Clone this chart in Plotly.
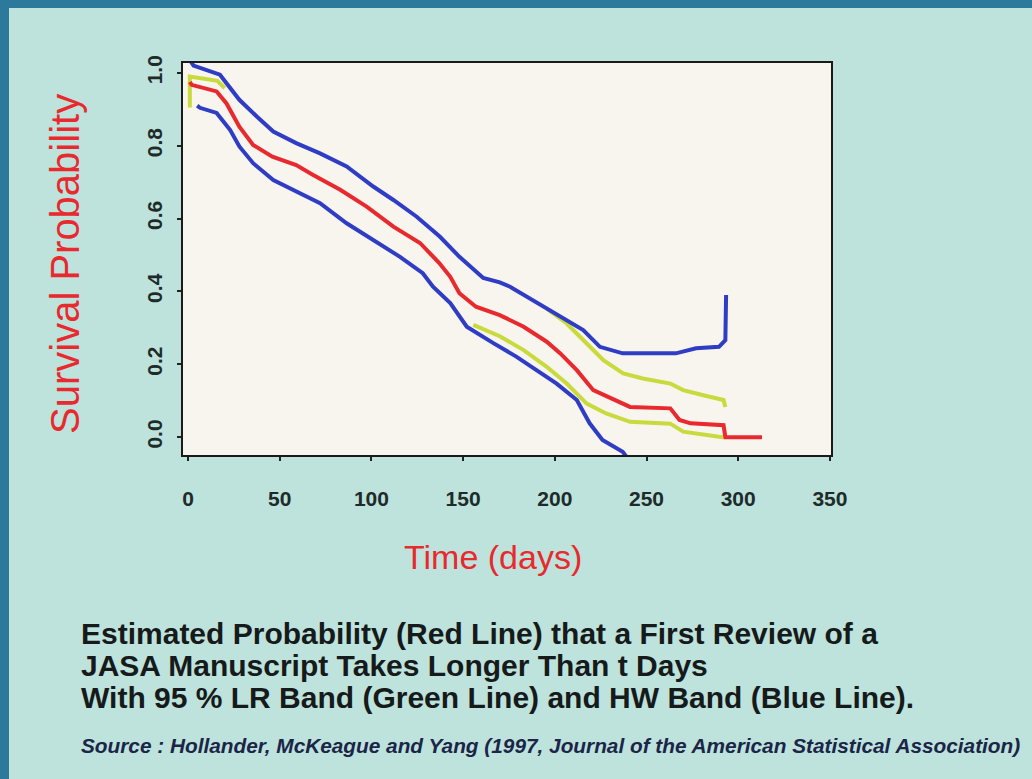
import plotly.graph_objects as go

# ---- data ----
# Kaplan-Meier estimate (red)
t_km = [1, 2, 15.6, 21, 28, 35.5, 46, 59, 68, 83, 97.4, 112, 126.5, 137, 143, 148, 157, 170, 183,
        195.6, 203, 212, 221, 230, 241, 263, 268, 274, 292, 293, 313]
s_km = [0.975, 0.967, 0.949, 0.916, 0.852, 0.802, 0.770, 0.747, 0.720, 0.679, 0.633, 0.578, 0.533,
        0.478, 0.440, 0.395, 0.358, 0.335, 0.303, 0.262, 0.230, 0.184, 0.129, 0.107, 0.083, 0.079,
        0.047, 0.038, 0.033, 0.0, 0.0]

# HW band upper (blue)
t_hw_up = [1, 3, 17.4, 21, 28, 37.5, 46.5, 59, 72, 86.5, 101, 112, 124.7, 137.4, 143, 148, 161, 170,
           175.6, 193.6, 206.5, 215.5, 224.6, 237, 266, 277, 289.5, 293, 293.4]
s_hw_up = [1.035, 1.02, 0.995, 0.970, 0.926, 0.880, 0.839, 0.807, 0.779, 0.743, 0.688, 0.651, 0.605,
           0.550, 0.520, 0.495, 0.437, 0.425, 0.413, 0.358, 0.321, 0.294, 0.248, 0.230, 0.230, 0.244,
           0.248, 0.266, 0.390]

# HW band lower (blue)
t_hw_lo = [5, 6.5, 15.6, 23, 28, 35.5, 46.5, 61, 72, 86.5, 101, 115.6, 128, 133.6, 143, 152, 166.5,
           179, 190, 201, 212, 219, 226, 237, 240]
s_hw_lo = [0.910, 0.904, 0.890, 0.843, 0.798, 0.752, 0.706, 0.669, 0.642, 0.587, 0.541, 0.495, 0.450,
           0.413, 0.368, 0.303, 0.258, 0.221, 0.184, 0.147, 0.102, 0.038, -0.008, -0.040, -0.060]

# LR band (green): early part, lower part, upper part
t_lr_early = [1, 1, 16, 20]
s_lr_early = [0.905, 0.990, 0.978, 0.958]
t_lr_lo = [155.6, 170, 183, 195.6, 206.5, 217.4, 228, 241, 263, 270, 289.5, 292]
s_lr_lo = [0.308, 0.277, 0.239, 0.193, 0.147, 0.092, 0.065, 0.042, 0.037, 0.015, 0.001, 0.0]
t_lr_up = [195.6, 206.5, 217.4, 226.5, 237.3, 248, 263, 270, 281, 292, 293]
s_lr_up = [0.353, 0.312, 0.257, 0.211, 0.175, 0.161, 0.147, 0.129, 0.115, 0.102, 0.083]

x_ticks = [0, 50, 100, 150, 200, 250, 300, 350]
y_ticks = [0.0, 0.2, 0.4, 0.6, 0.8, 1.0]
y_tick_labels = ["0.0", "0.2", "0.4", "0.6", "0.8", "1.0"]

caption_lines = [
    "Estimated Probability (Red Line) that a First Review of a",
    "JASA Manuscript Takes Longer Than t Days",
    "With 95 % LR Band (Green Line) and HW Band (Blue Line).",
]
source_text = "Source : Hollander, McKeague and Yang (1997, Journal of the American Statistical Association)"

# ---- styling ----
W, H = 1032, 779
L, R, T, B = 183, 831, 63, 455  # plot frame in pixels
RED = "#e8292e"
BLUE = "#2f3cc4"
GREEN = "#c9da3c"
BG = "#bde3dc"
PLOT_BG = "#f8f4ee"
FRAME_DARK = "#2c7a9b"

def px_x(px):
    return (px - L) / (R - L)

def px_y(py):
    return (B - py) / (B - T)

fig = go.Figure()
lw = 4
fig.add_trace(go.Scatter(x=t_lr_early, y=s_lr_early, mode="lines", line=dict(color=GREEN, width=lw), name="LR band"))
fig.add_trace(go.Scatter(x=t_lr_lo, y=s_lr_lo, mode="lines", line=dict(color=GREEN, width=lw), name="LR band lower"))
fig.add_trace(go.Scatter(x=t_lr_up, y=s_lr_up, mode="lines", line=dict(color=GREEN, width=lw), name="LR band upper"))
fig.add_trace(go.Scatter(x=t_hw_up, y=s_hw_up, mode="lines", line=dict(color=BLUE, width=lw), name="HW band upper"))
fig.add_trace(go.Scatter(x=t_hw_lo, y=s_hw_lo, mode="lines", line=dict(color=BLUE, width=lw), name="HW band lower"))
fig.add_trace(go.Scatter(x=t_km, y=s_km, mode="lines", line=dict(color=RED, width=lw), name="Estimate"))

tick_font = dict(family="Liberation Sans, Arial, sans-serif", size=21, color="#1e2b2a", weight="bold")

fig.update_layout(
    width=W, height=H,
    margin=dict(l=L, r=W - R, t=T, b=H - B, pad=0),
    paper_bgcolor=BG,
    plot_bgcolor=PLOT_BG,
    showlegend=False,
    xaxis=dict(
        range=[-2.73, 350.6], tickmode="array", tickvals=x_ticks,
        ticks="outside", ticklen=4, tickwidth=1.5, tickcolor="#222",
        showline=True, linecolor="#1a1a1a", linewidth=2, mirror=True,
        showgrid=False, zeroline=False, tickfont=tick_font, ticklabelstandoff=20,
    ),
    yaxis=dict(
        range=[-0.049, 1.027], tickmode="array", tickvals=y_ticks, ticktext=y_tick_labels,
        ticks="outside", ticklen=4, tickwidth=1.5, tickcolor="#222",
        showline=True, linecolor="#1a1a1a", linewidth=2, mirror=True,
        showgrid=False, zeroline=False, tickfont=tick_font, tickangle=-90, ticklabelstandoff=7,
    ),
    shapes=[
        dict(type="rect", xref="paper", yref="paper", x0=px_x(0), x1=px_x(W), y0=px_y(8), y1=px_y(0),
             fillcolor=FRAME_DARK, line=dict(width=0), layer="below"),
        dict(type="rect", xref="paper", yref="paper", x0=px_x(0), x1=px_x(9), y0=px_y(H), y1=px_y(0),
             fillcolor=FRAME_DARK, line=dict(width=0), layer="below"),
    ],
)

annotations = [
    dict(text="Time (days)", x=px_x(493), y=px_y(557), xref="paper", yref="paper",
         xanchor="center", yanchor="middle", showarrow=False,
         font=dict(family="Liberation Sans, Arial, sans-serif", size=34, color=RED)),
    dict(text="Survival Probability", x=px_x(65), y=px_y(264), xref="paper", yref="paper",
         xanchor="center", yanchor="middle", showarrow=False, textangle=-90,
         font=dict(family="Liberation Sans, Arial, sans-serif", size=40, color=RED)),
]
for i, line in enumerate(caption_lines):
    annotations.append(dict(
        text=line, x=px_x(79), y=px_y(633 + 32 * i), xref="paper", yref="paper",
        xanchor="left", yanchor="middle", showarrow=False,
        font=dict(family="Liberation Sans, Arial, sans-serif", size=30, color="#161a1a", weight="bold")))
annotations.append(dict(
    text="<i>" + source_text + "</i>", x=px_x(79), y=px_y(745), xref="paper", yref="paper",
    xanchor="left", yanchor="middle", showarrow=False,
    font=dict(family="Liberation Sans, Arial, sans-serif", size=20.8,
              color="#1b2548", weight="bold")))
fig.update_layout(annotations=annotations)

fig.write_html("out.html")
